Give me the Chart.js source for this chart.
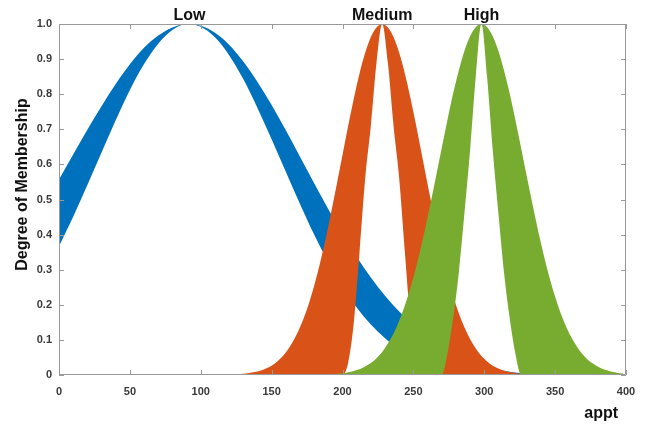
<!DOCTYPE html>
<html>
<head>
<meta charset="utf-8">
<script src="https://cdn.jsdelivr.net/npm/chart.js@4.4.1/dist/chart.umd.min.js"></script>
<style>
  html, body { margin: 0; padding: 0; background: #ffffff; }
  #wrap { width: 657px; height: 431px; }
</style>
</head>
<body>
<div id="wrap"><canvas id="mfChart" width="657" height="431"></canvas></div>
<script>
// membership function names and where their peaks sit on the appt axis
const mfNames = ['Low', 'Medium', 'High'];
const mfCenters = [92, 228, 298];

const xTitle = 'appt';
const yTitle = 'Degree of Membership';

// Low: upper / lower membership, read every 10 units
const lowX = [0, 10, 20, 30, 40, 50, 60, 70, 80, 90, 100, 110, 120, 130, 140, 150, 160, 170, 180, 190,
  200, 210, 220, 230, 240, 250, 260, 270, 280, 290, 300, 310, 320, 330, 340, 350, 360, 370, 380, 390, 400];
const lowUpper = [0.557, 0.628, 0.699, 0.766, 0.829, 0.885, 0.932, 0.967, 0.990, 1.0, 0.995, 0.975, 0.941, 0.893,
  0.835, 0.769, 0.697, 0.622, 0.546, 0.472, 0.402, 0.337, 0.278, 0.226, 0.181, 0.142, 0.108, 0.080, 0.056, 0.038,
  0.025, 0.015, 0.008, 0.004, 0.002, 0.001, 0, 0, 0, 0, 0];
const lowLower = [0.367, 0.451, 0.541, 0.634, 0.726, 0.812, 0.886, 0.944, 0.983, 1.0, 0.992, 0.962, 0.911, 0.843,
  0.761, 0.672, 0.579, 0.487, 0.400, 0.321, 0.252, 0.192, 0.144, 0.105, 0.075, 0.052, 0.035, 0.022, 0.013, 0.007,
  0.004, 0.002, 0.001, 0, 0, 0, 0, 0, 0, 0, 0];

// Medium: read every 4 units
const medX = [108, 112, 116, 120, 124, 128, 132, 136, 140, 144, 148, 152, 156, 160, 164, 168, 172, 176, 180, 184,
  188, 192, 196, 200, 204, 208, 212, 216, 220, 224, 228, 232, 236, 240, 244, 248, 252, 256, 260, 264,
  268, 272, 276, 280, 284, 288, 292, 296, 300, 304, 308, 312, 316, 320, 324, 328];
const medUpper = [0, 0, 0.001, 0.001, 0.002, 0.003, 0.004, 0.007, 0.010, 0.015, 0.022, 0.032, 0.046, 0.064,
  0.088, 0.118, 0.155, 0.200, 0.254, 0.316, 0.386, 0.463, 0.544, 0.627, 0.710, 0.788, 0.859, 0.918, 0.963, 0.990,
  1.0, 0.990, 0.963, 0.918, 0.859, 0.788, 0.710, 0.627, 0.544, 0.463, 0.386, 0.316, 0.254, 0.200, 0.155, 0.118,
  0.088, 0.064, 0.046, 0.032, 0.022, 0.015, 0.010, 0.007, 0.004, 0.003];
const medLower = [0, 0, 0, 0, 0, 0, 0, 0, 0, 0, 0, 0, 0, 0, 0, 0, 0, 0, 0, 0,
  0, 0, 0, 0, 0.035, 0.15, 0.35, 0.56, 0.71, 0.89, 1.0, 0.89, 0.71, 0.56, 0.35, 0.15, 0.035, 0, 0, 0,
  0, 0, 0, 0, 0, 0, 0, 0, 0, 0, 0, 0, 0, 0, 0, 0];

// High: read every 4 units
const highX = [178, 182, 186, 190, 194, 198, 202, 206, 210, 214, 218, 222, 226, 230, 234, 238, 242, 246, 250, 254,
  258, 262, 266, 270, 274, 278, 282, 286, 290, 294, 298, 302, 306, 310, 314, 318, 322, 326, 330, 334,
  338, 342, 346, 350, 354, 358, 362, 366, 370, 374, 378, 382, 386, 390, 394, 398];
const highUpper = [0, 0.001, 0.001, 0.002, 0.003, 0.004, 0.006, 0.009, 0.014, 0.020, 0.029, 0.040, 0.056, 0.077,
  0.103, 0.135, 0.175, 0.223, 0.278, 0.341, 0.411, 0.487, 0.566, 0.647, 0.726, 0.801, 0.867, 0.923, 0.965, 0.991,
  1.0, 0.991, 0.965, 0.923, 0.867, 0.801, 0.726, 0.647, 0.566, 0.487, 0.411, 0.341, 0.278, 0.223, 0.175, 0.135,
  0.103, 0.077, 0.056, 0.040, 0.029, 0.020, 0.014, 0.009, 0.006, 0.004];
const highLower = [0, 0, 0, 0, 0, 0, 0, 0, 0, 0, 0, 0, 0, 0, 0, 0, 0, 0, 0, 0,
  0, 0, 0, 0, 0.06, 0.16, 0.29, 0.46, 0.64, 0.85, 1.0, 0.85, 0.64, 0.46, 0.29, 0.16, 0.06, 0, 0, 0,
  0, 0, 0, 0, 0, 0, 0, 0, 0, 0, 0, 0, 0, 0, 0, 0];

const colors = ['#0072BD', '#D95319', '#77AC30'];

function pts(xs, ys) {
  return xs.map((x, i) => ({ x: x, y: ys[i] }));
}

function band(label, xs, ys, color, fillTo, order) {
  return {
    label: label,
    data: pts(xs, ys),
    borderWidth: 0,
    borderColor: color,
    backgroundColor: color,
    pointRadius: 0,
    cubicInterpolationMode: 'monotone',
    fill: fillTo,
    order: order
  };
}

// inside tick marks, box and text labels (MATLAB look)
const frame = {
  id: 'frame',
  afterDatasetsDraw(chart) {
    const ctx = chart.ctx;
    const a = chart.chartArea;
    const xs = chart.scales.x, ys = chart.scales.y;
    ctx.save();
    ctx.strokeStyle = '#9a9a9a';
    ctx.lineWidth = 1;
    ctx.beginPath();
    ctx.rect(a.left + 0.5, a.top + 0.5, a.right - a.left - 1, a.bottom - a.top - 1);
    ctx.stroke();
    ctx.beginPath();
    xs.ticks.forEach(t => {
      const px = Math.round(xs.getPixelForValue(t.value)) + 0.5;
      ctx.moveTo(px, a.bottom); ctx.lineTo(px, a.bottom - 5);
      ctx.moveTo(px, a.top); ctx.lineTo(px, a.top + 5);
    });
    ys.ticks.forEach(t => {
      const py = Math.round(ys.getPixelForValue(t.value)) + 0.5;
      ctx.moveTo(a.left, py); ctx.lineTo(a.left + 5, py);
      ctx.moveTo(a.right, py); ctx.lineTo(a.right - 5, py);
    });
    ctx.stroke();

    ctx.fillStyle = '#111';
    ctx.font = 'bold 16px "Liberation Sans", Arial, sans-serif';
    ctx.textAlign = 'center';
    ctx.textBaseline = 'alphabetic';
    mfNames.forEach((n, i) => {
      ctx.fillText(n, xs.getPixelForValue(mfCenters[i]), a.top - 4);
    });

    ctx.textAlign = 'right';
    ctx.fillText(xTitle, a.right - 8, 418);

    ctx.translate(27, (a.top + a.bottom) / 2 - 15);
    ctx.rotate(-Math.PI / 2);
    ctx.textAlign = 'center';
    ctx.fillText(yTitle, 0, 0);
    ctx.restore();
  }
};

const tickFont = { family: '"Liberation Sans", Arial, sans-serif', size: 11, weight: 'bold' };

new Chart(document.getElementById('mfChart'), {
  type: 'line',
  data: {
    datasets: [
      band('Low', lowX, lowUpper, colors[0], 1, 3),
      band('Low lower', lowX, lowLower, colors[0], false, 3),
      band('Medium', medX, medUpper, colors[1], 3, 2),
      band('Medium lower', medX, medLower, colors[1], false, 2),
      band('High', highX, highUpper, colors[2], 5, 1),
      band('High lower', highX, highLower, colors[2], false, 1)
    ]
  },
  options: {
    responsive: false,
    animation: false,
    layout: { padding: { left: 0, top: 24, right: 31, bottom: 0 } },
    plugins: {
      legend: { display: false },
      tooltip: { enabled: false },
      filler: { propagate: false }
    },
    scales: {
      x: {
        type: 'linear',
        min: 0,
        max: 400,
        grid: { display: false, drawTicks: false },
        border: { display: false },
        ticks: { stepSize: 50, padding: 10, color: '#3a3a3a', font: tickFont },
        afterFit(scale) { scale.height = 56; }
      },
      y: {
        min: 0,
        max: 1,
        grid: { display: false, drawTicks: false },
        border: { display: false },
        ticks: {
          stepSize: 0.1,
          padding: 7,
          color: '#3a3a3a',
          font: tickFont,
          callback: v => (v === 0 ? '0' : v.toFixed(1))
        },
        afterFit(scale) { scale.width = 59; }
      }
    }
  },
  plugins: [frame]
});
</script>
</body>
</html>
